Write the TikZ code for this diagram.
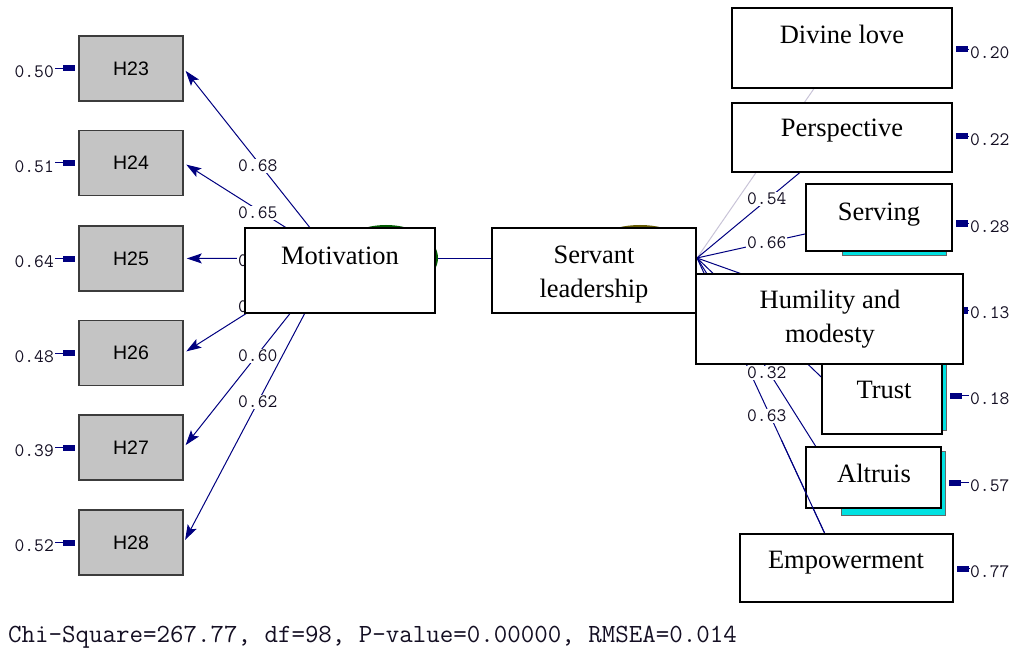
\documentclass[tikz,border=0pt]{standalone}
\usepackage{fontspec}
\setmainfont{Liberation Serif}
\newfontfamily\lsans{Liberation Sans}
\usetikzlibrary{arrows.meta,shapes.geometric}
\definecolor{pathnavy}{RGB}{0,0,128}
\definecolor{obsgray}{RGB}{196,196,196}
\definecolor{obsedge}{RGB}{60,60,60}
\definecolor{lblcol}{RGB}{20,15,35}
\definecolor{greyline}{RGB}{200,195,215}
\definecolor{shadowcyan}{RGB}{0,225,225}
\definecolor{latgreen}{RGB}{0,230,0}
\definecolor{latgreenedge}{RGB}{0,90,0}
\definecolor{latyellow}{RGB}{255,240,0}
\definecolor{latyellowedge}{RGB}{100,90,0}
\begin{document}
\begin{tikzpicture}[x=1pt,y=-1pt,
 obs/.style={draw=obsedge, line width=1.5pt, fill=obsgray, minimum width=104pt, minimum height=65pt, inner sep=0pt, font=\lsans\fontsize{19.5}{19.5}\selectfont},
 wbox/.style={draw=black, line width=2pt, fill=white, inner sep=0pt},
 btext/.style={font=\fontsize{26.5}{34.5}\selectfont, align=center, inner sep=0pt},
 pathl/.style={draw=pathnavy, line width=1pt},
 arr/.style={pathl, arrows={-Stealth[length=15pt,width=10pt,inset=3pt,fill=pathnavy]}, shorten >=3pt},
 lbl/.style={font=\ttfamily\fontsize{19}{19}\selectfont, text=lblcol, inner sep=1pt},
 plbl/.style={lbl, fill=white, anchor=west},
 err/.style={pathl, arrows={-Rectangle[length=12pt,width=6pt,fill=pathnavy]}, shorten >=3pt},
 shadowbox/.style={draw=black!60, line width=1pt, fill=shadowcyan, inner sep=0pt},
 lat/.style={ellipse, inner sep=0pt, line width=2pt}
]
\useasboundingbox (0,0) rectangle (1017,655);

% latent variables (mostly hidden)
\node[lat, fill=latgreen, draw=latgreenedge, minimum width=102pt, minimum height=64pt] (mot) at (386,258) {};
\node[lat, fill=latyellow, draw=latyellowedge, minimum width=112pt, minimum height=64pt] (sl) at (640,258) {};
\draw[pathl] (mot.east) -- (sl.west);

% observed variables (left)
\node[obs] (h23) at (131,68.5) {H23};
\node[obs] (h24) at (131,163) {H24};
\node[obs] (h25) at (131,258.5) {H25};
\node[obs] (h26) at (131,353) {H26};
\node[obs] (h27) at (131,447.5) {H27};
\node[obs] (h28) at (131,542.5) {H28};

\draw[arr] (mot.west) -- (h23.east);
\draw[arr] (mot.west) -- (h24.east);
\draw[arr] (mot.west) -- (h25.east);
\draw[arr] (mot.west) -- (h26.east);
\draw[arr] (mot.west) -- (h27.east);
\draw[arr] (mot.west) -- (h28.east);

\node[plbl] (l23) at (237,166) {0.68};
\node[plbl] (l24) at (237,213) {0.65};
\node[plbl] (l25) at (237,261) {0};
\node[plbl] (l26) at (237,307) {0};
\node[plbl] (l27) at (237,356) {0.60};
\node[plbl] (l28) at (237,402) {0.62};

% error terms (left)
\node[lbl, anchor=east] (e23) at (55,72) {0.50};
\node[lbl, anchor=east] (e24) at (55,166.5) {0.51};
\node[lbl, anchor=east] (e25) at (55,262) {0.64};
\node[lbl, anchor=east] (e26) at (55,356.5) {0.48};
\node[lbl, anchor=east] (e27) at (55,451) {0.39};
\node[lbl, anchor=east] (e28) at (55,546) {0.52};
\foreach \e/\h in {e23/h23,e24/h24,e25/h25,e26/h26,e27/h27,e28/h28}{
  \coordinate (s\e) at ([yshift=3.5pt]\e.east);
  \draw[err] (s\e) -- (s\e -| \h.west);
}

% right-hand paths
\coordinate (divC) at (842,48);
\coordinate (perC) at (842,137.5);
\coordinate (serC) at (879,217.5);
\coordinate (humEnd) at (829,305);
\coordinate (trEnd) at (840,395);
\coordinate (alEnd) at (830,469);
\coordinate (emEnd) at (825,534);
\draw[pathl, draw=greyline] (sl.east) -- (divC);
\draw[pathl] (sl.east) -- (perC);
\draw[pathl] (sl.east) -- (serC);
\draw[pathl] (sl.east) -- (humEnd);
\draw[pathl] (sl.east) -- (trEnd);
\draw[pathl] (sl.east) -- (alEnd);
\draw[pathl] (sl.east) -- (emEnd);

\node[plbl] (r54) at (746,199) {0.54};
\node[plbl] (r66) at (746,243) {0.66};
\node[plbl] (r32) at (746,373) {0.32};

% central boxes
\node[wbox, minimum width=190pt, minimum height=85pt] (motbox) at (340,270.5) {};
\node[btext, anchor=base] (mott) at (340,264) {Motivation};
\node[wbox, minimum width=204pt, minimum height=85pt] (slbox) at (594,270.5) {};
\node[btext] (slt) at (594,274.4) {Servant\\leadership};

% right boxes
\node[wbox, minimum width=220pt, minimum height=80pt] (divine) at (divC) {};
\node[btext, anchor=base] (divinet) at (842,44) {Divine love};
\node[wbox, minimum width=220pt, minimum height=69pt] (persp) at (perC) {};
\node[btext, anchor=base] (perspt) at (842,137) {Perspective};
\node[shadowbox, minimum width=104pt, minimum height=65pt] (servsh) at (894,222.5) {};
\node[wbox, minimum width=146pt, minimum height=67pt] (serving) at (serC) {};
\node[btext, anchor=base] (servingt) at (879,220) {Serving};
\node[shadowbox, minimum width=116pt, minimum height=74pt] (trustsh) at (888,393) {};
\node[wbox, minimum width=120pt, minimum height=84pt] (trust) at (882,392) {};
\node[btext, anchor=base] (trustt) at (884,398) {Trust};
\node[wbox, minimum width=267pt, minimum height=90pt] (hum) at (829.5,319) {};
\node[btext] (humt) at (830,319) {Humility and\\modesty};
\node[shadowbox, minimum width=104pt, minimum height=64pt] (altsh) at (893,483) {};
\node[wbox, minimum width=135pt, minimum height=61pt] (altruis) at (873.5,477.5) {};
\node[btext, anchor=base] (altruist) at (874,482) {Altruis};
\begin{scope}
  \clip (700,440) rectangle (830,534);
  \draw[pathl] (sl.east) -- (emEnd);
\end{scope}
\node[plbl] (r63) at (746,416) {0.63};
\node[wbox, minimum width=213pt, minimum height=68pt] (empow) at (846.5,568) {};
\node[btext, anchor=base] (empowt) at (846,568) {Empowerment};

% error terms (right)
\node[lbl, anchor=west] (f20) at (969,53) {0.20};
\node[lbl, anchor=west] (f22) at (969,140) {0.22};
\node[lbl, anchor=west] (f28) at (969,227) {0.28};
\node[lbl, anchor=west] (f13) at (969,313) {0.13};
\node[lbl, anchor=west] (f18) at (969,399) {0.18};
\node[lbl, anchor=west] (f57) at (969,486) {0.57};
\node[lbl, anchor=west] (f77) at (969,572) {0.77};
\foreach \e/\b in {f20/divine,f22/persp,f28/serving,f18/trustsh,f57/altsh,f77/empow}{
  \coordinate (s\e) at ([yshift=3.5pt]\e.west);
  \draw[err] (s\e) -- (s\e -| \b.east);
}
\coordinate (sf13) at ([yshift=3pt]f13.west);
\draw[pathl, arrows={-Rectangle[length=4pt,width=7pt,fill=pathnavy]}] (sf13) -- (sf13 -| hum.east);

% fit statistics
\node[font=\ttfamily\fontsize{26.2}{27}\selectfont, text=lblcol, anchor=west, inner sep=0pt] (fitstat) at (8,637) {Chi-Square=267.77, df=98, P-value=0.00000, RMSEA=0.014};
\end{tikzpicture}
\end{document}
